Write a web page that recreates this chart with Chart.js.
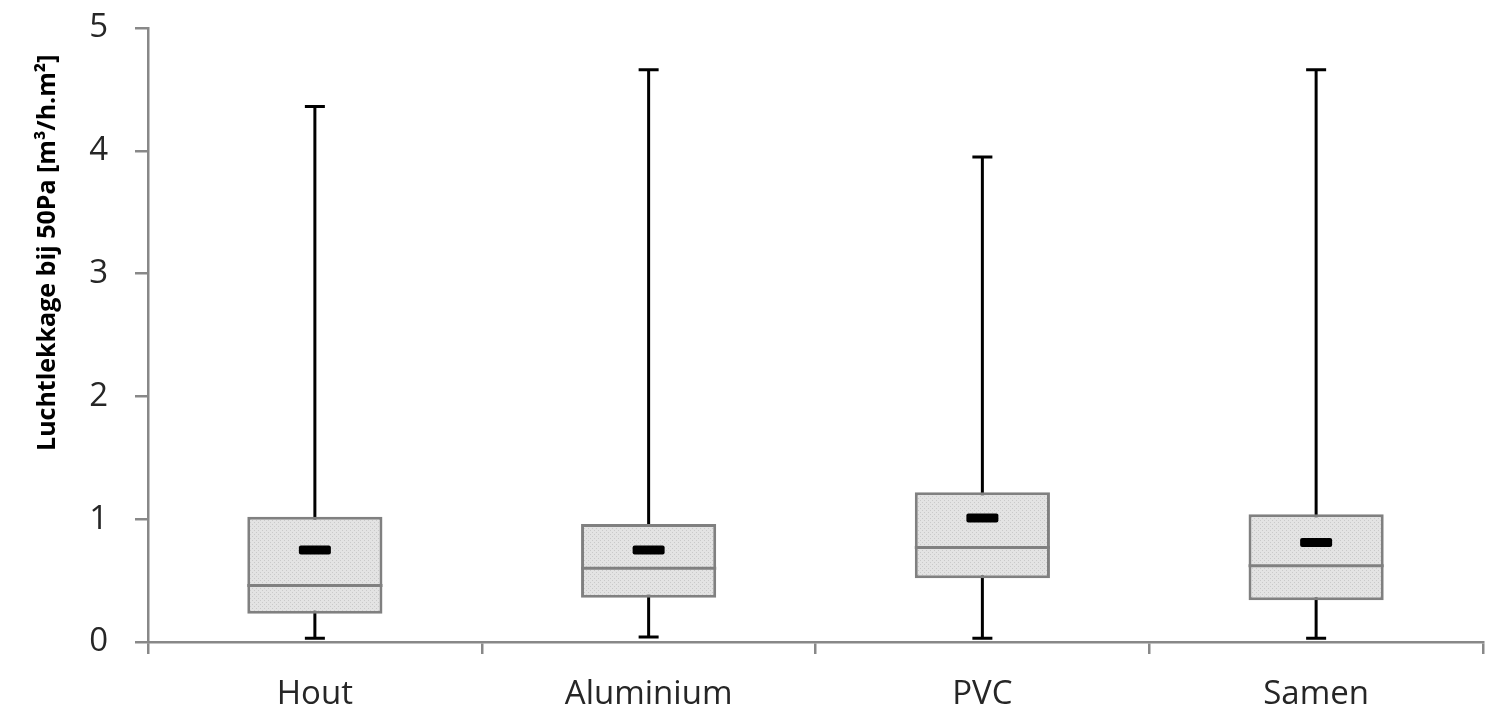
<!DOCTYPE html>
<html>
<head>
<meta charset="utf-8">
<script src="https://cdn.jsdelivr.net/npm/chart.js@4/dist/chart.umd.min.js"></script>
<style>
  html, body { margin: 0; padding: 0; background: #fff; }
  #wrap { width: 1502px; height: 711px; }
</style>
</head>
<body>
<div id="wrap"><canvas id="chart"></canvas></div>
<script>
var categories = ["Hout", "Aluminium", "PVC", "Samen"];
var minValues = [0.03, 0.04, 0.03, 0.03];
var q1Values = [0.23, 0.36, 0.52, 0.34];
var medianValues = [0.46, 0.60, 0.77, 0.62];
var q3Values = [1.02, 0.96, 1.22, 1.04];
var maxValues = [4.36, 4.66, 3.95, 4.66];
var meanValues = [0.75, 0.75, 1.01, 0.81];
var yTicks = [0, 1, 2, 3, 4, 5];
var yTitle = "Luchtlekkage bij 50Pa [m³/h.m²]";

// dotted grey fill like the original box
function makePattern() {
  var c = document.createElement("canvas");
  c.width = 4;
  c.height = 4;
  var g = c.getContext("2d");
  g.fillStyle = "#e3e3e3";
  g.fillRect(0, 0, 4, 4);
  g.fillStyle = "#c9c9c9";
  g.fillRect(0, 0, 1, 1);
  g.fillRect(2, 2, 1, 1);
  return g.createPattern(c, "repeat");
}

var boxPlugin = {
  id: "boxExtras",
  beforeDatasetsDraw: function (chart) {
    var ctx = chart.ctx;
    var x = chart.scales.x, y = chart.scales.y;
    ctx.save();
    ctx.strokeStyle = "#000";
    ctx.lineWidth = 3;
    for (var i = 0; i < categories.length; i++) {
      var cx = x.getPixelForValue(i);
      ctx.beginPath();
      ctx.moveTo(cx, y.getPixelForValue(maxValues[i]));
      ctx.lineTo(cx, y.getPixelForValue(minValues[i]));
      ctx.stroke();
      // caps
      ctx.beginPath();
      ctx.moveTo(cx - 10, y.getPixelForValue(maxValues[i]));
      ctx.lineTo(cx + 10, y.getPixelForValue(maxValues[i]));
      ctx.moveTo(cx - 10, y.getPixelForValue(minValues[i]));
      ctx.lineTo(cx + 10, y.getPixelForValue(minValues[i]));
      ctx.stroke();
    }
    ctx.restore();
  },
  afterDatasetsDraw: function (chart) {
    var ctx = chart.ctx;
    var x = chart.scales.x, y = chart.scales.y;
    var meta = chart.getDatasetMeta(0);
    ctx.save();
    for (var i = 0; i < categories.length; i++) {
      var bar = meta.data[i];
      var half = bar.width / 2;
      var cx = x.getPixelForValue(i);
      var my = y.getPixelForValue(medianValues[i]);
      ctx.strokeStyle = "#808080";
      ctx.lineWidth = 3;
      ctx.beginPath();
      ctx.moveTo(cx - half, my);
      ctx.lineTo(cx + half, my);
      ctx.stroke();
      // mean marker
      var ay = y.getPixelForValue(meanValues[i]);
      ctx.fillStyle = "#000";
      ctx.beginPath();
      ctx.roundRect(cx - 16, ay - 4.5, 32, 9, 2);
      ctx.fill();
    }
    // axis title, a bit above the middle like the original
    var ty = y.getPixelForValue(3.17);
    ctx.translate(48, ty);
    ctx.rotate(-Math.PI / 2);
    ctx.fillStyle = "#000";
    ctx.font = "bold 25px 'Open Sans'";
    ctx.textAlign = "center";
    ctx.textBaseline = "middle";
    ctx.fillText(yTitle, 0, 0);
    ctx.restore();
  }
};

new Chart(document.getElementById("chart"), {
  type: "bar",
  data: {
    labels: categories,
    datasets: [
      {
        data: categories.map(function (c, i) { return [q1Values[i], q3Values[i]]; }),
        backgroundColor: makePattern(),
        borderColor: "#808080",
        borderWidth: 3,
        borderSkipped: false,
        barPercentage: 0.405,
        categoryPercentage: 1
      }
    ]
  },
  options: {
    responsive: true,
    maintainAspectRatio: false,
    animation: false,
    layout: { padding: { left: 0, right: 19, top: 28, bottom: 0 } },
    plugins: {
      legend: { display: false },
      tooltip: { enabled: false }
    },
    scales: {
      x: {
        afterFit: function (s) { s.height = 69; },
        grid: { display: true, drawOnChartArea: false, drawTicks: true, tickLength: 12, color: "#888", lineWidth: 2.5 },
        border: { display: true, color: "#888", width: 2.5 },
        ticks: { color: "#262626", font: { family: "Open Sans", size: 33 }, padding: 21 }
      },
      y: {
        min: 0,
        max: 5,
        afterBuildTicks: function (s) { s.ticks = yTicks.map(function (v) { return { value: v }; }); },
        afterFit: function (s) { s.width = 148; s.paddingTop = 0; s.paddingBottom = 0; },
        grid: { display: true, drawOnChartArea: false, drawTicks: true, tickLength: 13, color: "#888", lineWidth: 2.5 },
        border: { display: true, color: "#888", width: 2.5 },
        ticks: { color: "#262626", font: { family: "Open Sans", size: 33 }, padding: 27 }
      }
    }
  },
  plugins: [boxPlugin]
});
</script>
</body>
</html>
